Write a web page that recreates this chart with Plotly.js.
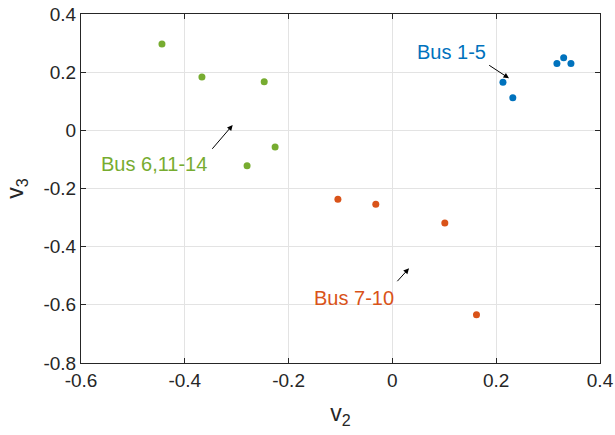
<!DOCTYPE html>
<html>
<head>
<meta charset="utf-8">
<script src="https://cdn.plot.ly/plotly-3.0.1.min.js"></script>
<style>html,body{margin:0;padding:0;background:#fff;}#plot{width:615px;height:435px;}</style>
</head>
<body>
<div id="plot"></div>
<script>
// Bus 1-5
const bus15_v2 = [0.213, 0.232, 0.317, 0.330, 0.344];
const bus15_v3 = [0.165, 0.112, 0.230, 0.250, 0.230];
// Bus 7-10
const bus710_v2 = [-0.105, -0.032, 0.101, 0.162];
const bus710_v3 = [-0.237, -0.254, -0.319, -0.634];
// Bus 6,11-14
const bus6_v2 = [-0.444, -0.367, -0.247, -0.226, -0.280];
const bus6_v3 = [0.297, 0.183, 0.167, -0.057, -0.122];

const xTicks = [-0.6, -0.4, -0.2, 0, 0.2, 0.4];
const xTickLabels = ['-0.6', '-0.4', '-0.2', '0', '0.2', '0.4'];
const yTicks = [-0.8, -0.6, -0.4, -0.2, 0, 0.2, 0.4];
const yTickLabels = ['-0.8', '-0.6', '-0.4', '-0.2', '0', '0.2', '0.4'];

const FONT = 'Liberation Sans, Arial, Helvetica, sans-serif';
const mk = (x, y, c) => ({x, y, type: 'scatter', mode: 'markers', marker: {color: c, size: 7}, showlegend: false, hoverinfo: 'none'});

const data = [
  mk(bus15_v2, bus15_v3, '#0072BD'),
  mk(bus710_v2, bus710_v3, '#D95319'),
  mk(bus6_v2, bus6_v3, '#77AC30')
];

const axisCommon = {
  showline: true, linecolor: '#262626', linewidth: 1,
  mirror: 'allticks', ticks: 'inside', ticklen: 5, tickcolor: '#262626',
  showgrid: true, gridcolor: '#e3e3e3', gridwidth: 1,
  zeroline: false, tickfont: {family: FONT, size: 19, color: '#262626'},
  tickmode: 'array'
};

const arrow = (hx, hy, tx, ty) => ({
  x: hx, y: hy, ax: tx, ay: ty, xref: 'x', yref: 'y', axref: 'x', ayref: 'y',
  text: '', showarrow: true, arrowhead: 2, arrowsize: 1.1, arrowwidth: 1, arrowcolor: '#000'
});
const label = (x, y, t, c) => ({
  x, y, xref: 'x', yref: 'y', text: t, showarrow: false,
  font: {family: FONT, size: 20, color: c}
});

const layout = {
  width: 615, height: 435,
  margin: {l: 81, r: 15, t: 14, b: 72},
  paper_bgcolor: '#fff', plot_bgcolor: '#fff',
  xaxis: Object.assign({}, axisCommon, {
    range: [-0.6, 0.4], tickvals: xTicks, ticktext: xTickLabels,
    title: {text: 'v<sub>2</sub>', font: {family: FONT, size: 23, color: '#262626'}, standoff: 15}
  }),
  yaxis: Object.assign({}, axisCommon, {
    range: [-0.8, 0.4], tickvals: yTicks, ticktext: yTickLabels,
    title: {text: 'v<sub>3</sub>', font: {family: FONT, size: 23, color: '#262626'}, standoff: 13}
  }),
  annotations: [
    label(0.114, 0.268, 'Bus 1-5', '#0072BD'),
    arrow(0.2247, 0.179, 0.1836, 0.227),
    label(-0.459, -0.117, 'Bus 6,11-14', '#77AC30'),
    arrow(-0.3077, 0.0183, -0.3495, -0.0687),
    label(-0.074, -0.578, 'Bus 7-10', '#D95319'),
    arrow(0.032, -0.4745, 0.0069, -0.524)
  ]
};

Plotly.newPlot('plot', data, layout, {staticPlot: true, displayModeBar: false});
</script>
</body>
</html>
